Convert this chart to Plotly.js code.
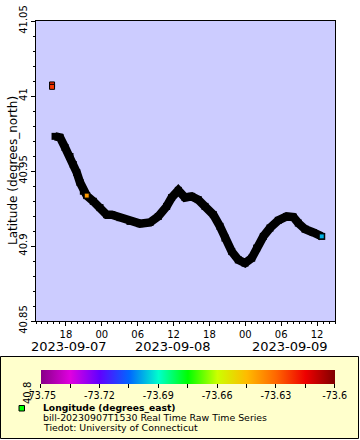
<!DOCTYPE html>
<html>
<head>
<meta charset="utf-8">
<script src="https://cdn.plot.ly/plotly-3.0.1.min.js"></script>
<style>html,body{margin:0;padding:0;background:#fff;}#chart{width:360px;height:440px;}</style>
</head>
<body>
<div id="chart"></div>
<script>
// Track: time vs latitude
const trackTime = ['2023-09-07 16:11','2023-09-07 17:01','2023-09-07 17:51','2023-09-07 18:41','2023-09-07 19:14','2023-09-07 19:49','2023-09-07 20:22','2023-09-07 20:55','2023-09-07 21:29','2023-09-07 22:35','2023-09-07 23:42','2023-09-08 00:49','2023-09-08 01:40','2023-09-08 03:03','2023-09-08 04:43','2023-09-08 06:23','2023-09-08 08:04','2023-09-08 09:27','2023-09-08 10:51','2023-09-08 11:41','2023-09-08 12:48','2023-09-08 13:55','2023-09-08 15:02','2023-09-08 16:08','2023-09-08 17:16','2023-09-08 18:39','2023-09-08 19:46','2023-09-08 20:36','2023-09-08 21:44','2023-09-08 22:50','2023-09-08 23:57','2023-09-09 01:04','2023-09-09 01:54','2023-09-09 03:01','2023-09-09 04:08','2023-09-09 05:31','2023-09-09 06:55','2023-09-09 08:02','2023-09-09 08:52','2023-09-09 09:59','2023-09-09 11:22','2023-09-09 12:47'];
const trackLat = [40.9731,40.9724,40.9657,40.9597,40.9543,40.9490,40.9423,40.9365,40.9336,40.9298,40.9256,40.9209,40.9209,40.9189,40.9164,40.9149,40.9157,40.9197,40.9264,40.9323,40.9371,40.9323,40.9331,40.9309,40.9264,40.9209,40.9131,40.9053,40.8963,40.8908,40.8886,40.8919,40.8986,40.9064,40.9120,40.9171,40.9197,40.9193,40.9153,40.9113,40.9090,40.9064];

// Samples whose longitude colour is visible
const colTime = ['2023-09-07 15:41','2023-09-07 15:41','2023-09-07 21:29','2023-09-09 12:47'];
const colLat = [41.0077, 41.0061, 40.9336, 40.9064];
const colLon = [-73.621, -73.623, -73.639, -73.6975];

const yTickVals = [40.85, 40.9, 40.95, 41, 41.05];
const yTickText = ['40.85', '40.9', '40.95', '41', '41.05'];
const cbTickVals = [-73.75,-73.735,-73.72,-73.705,-73.69,-73.675,-73.66,-73.645,-73.63,-73.615,-73.6];
const cbTickText = ['-73.75','','-73.72','','-73.69','','-73.66','','-73.63','','-73.6'];
const dateLabels = ['2023-09-07', '2023-09-08', '2023-09-09'];
const yTitle = 'Latitude (degrees_north)';
const legendLines = ['<b>Longitude (degrees_east)</b>', 'bill-20230907T1530 Real Time Raw Time Series', 'Tiedot: University of Connecticut'];

const colorscale = [[0,'#880088'],[0.1,'#e000e0'],[0.2,'#6000ff'],[0.3,'#0066ff'],[0.4,'#00ffcc'],[0.5,'#00ff00'],[0.6,'#ccff00'],[0.7,'#ffbb00'],[0.8,'#ff6600'],[0.9,'#ee0000'],[1,'#800000']];

// pixel -> paper helpers (plot area: x 36..335, y 21..321)
const L = 36, R = 335, T = 21, B = 321;
const px = x => (x - L) / (R - L);
const py = y => (B - y) / (B - T);

const FONT = 'DejaVu Sans, Verdana, sans-serif';

const traces = [
  {
    type: 'scatter', mode: 'lines+markers', x: trackTime, y: trackLat,
    line: {color: '#000', width: 8.5},
    marker: {symbol: 'square', size: 7, color: '#000'},
    hoverinfo: 'skip', showlegend: false
  },
  {
    type: 'scatter', mode: 'markers', x: colTime, y: colLat,
    marker: {
      symbol: 'square', size: 5, color: colLon, cmin: -73.75, cmax: -73.6,
      colorscale: colorscale, line: {color: '#000', width: 1},
      showscale: true,
      colorbar: {
        orientation: 'h', x: px(187.7), xanchor: 'center', y: py(370), yanchor: 'top',
        len: 294, lenmode: 'pixels', thickness: 14, thicknessmode: 'pixels',
        xpad: 0, ypad: 0, outlinewidth: 0, borderwidth: 0, bgcolor: 'rgba(0,0,0,0)',
        tickmode: 'array', tickvals: cbTickVals, ticktext: cbTickText,
        ticks: 'outside', ticklen: 4, tickwidth: 1, tickcolor: '#000',
        tickfont: {family: FONT, size: 9.6, color: '#000'}
      }
    },
    showlegend: false
  }
];

const annotations = [];
const dateX = [68.5, 172.5, 289.7];
dateLabels.forEach((d, i) => annotations.push({
  text: d, xref: 'paper', yref: 'paper', x: px(dateX[i]), y: py(346),
  xanchor: 'center', yanchor: 'middle', showarrow: false,
  font: {family: FONT, size: 13, color: '#000'}
}));
annotations.push({
  text: yTitle, xref: 'paper', yref: 'paper', x: px(13), y: py(171), textangle: -90,
  xanchor: 'center', yanchor: 'middle', showarrow: false,
  font: {family: FONT, size: 12, color: '#000'}
});
annotations.push({
  text: '40.8', xref: 'paper', yref: 'paper', x: px(27), y: py(393), textangle: -90,
  xanchor: 'center', yanchor: 'middle', showarrow: false,
  font: {family: FONT, size: 10, color: '#000'}
});
const lineY = [407.3, 417.6, 427.5];
const lineSize = [9.2, 9.4, 9.4];
legendLines.forEach((t, i) => annotations.push({
  text: t, xref: 'paper', yref: 'paper', x: px(41), y: py(lineY[i]),
  xanchor: 'left', yanchor: 'middle', showarrow: false,
  font: {family: FONT, size: lineSize[i], color: '#000'}
}));

const layout = {
  width: 360, height: 440,
  margin: {l: L, r: 360 - R, t: T, b: 440 - B, pad: 0},
  paper_bgcolor: '#ffffff', plot_bgcolor: '#ccccff',
  font: {family: FONT, size: 10, color: '#000'},
  xaxis: {
    type: 'date', range: ['2023-09-07 13:00', '2023-09-09 15:00'],
    tick0: '2023-09-07 00:00', dtick: 6 * 3600000, tickformat: '%H',
    ticks: 'outside', ticklen: 4, tickcolor: '#000', tickwidth: 1,
    minor: {dtick: 3600000, ticks: 'outside', ticklen: 2, tickcolor: '#000'},
    showgrid: false, zeroline: false, showline: true, linecolor: '#000', linewidth: 1, mirror: true,
    tickfont: {family: FONT, size: 10, color: '#000'}
  },
  yaxis: {
    range: [40.85, 41.05], tickmode: 'array', tickvals: yTickVals, ticktext: yTickText,
    tickangle: -90, ticks: 'outside', ticklen: 4, tickcolor: '#000', tickwidth: 1,
    minor: {tickmode: 'linear', tick0: 40.85, dtick: 0.01, ticks: 'outside', ticklen: 2, tickcolor: '#000'},
    showgrid: false, zeroline: false, showline: true, linecolor: '#000', linewidth: 1, mirror: true,
    tickfont: {family: FONT, size: 10, color: '#000'}
  },
  shapes: [
    {type: 'rect', xref: 'paper', yref: 'paper', x0: px(0.5), x1: px(358.5), y0: py(438.5), y1: py(356.5),
     fillcolor: '#ffffcc', line: {color: '#000', width: 1}, layer: 'below'},
    {type: 'rect', xref: 'paper', yref: 'paper', x0: px(19), x1: px(24.5), y0: py(411), y1: py(405.5),
     fillcolor: '#00ff00', line: {color: '#000', width: 1}, layer: 'above'}
  ],
  annotations: annotations,
  showlegend: false
};

Plotly.newPlot('chart', traces, layout, {displayModeBar: false, staticPlot: true});
</script>
</body>
</html>
